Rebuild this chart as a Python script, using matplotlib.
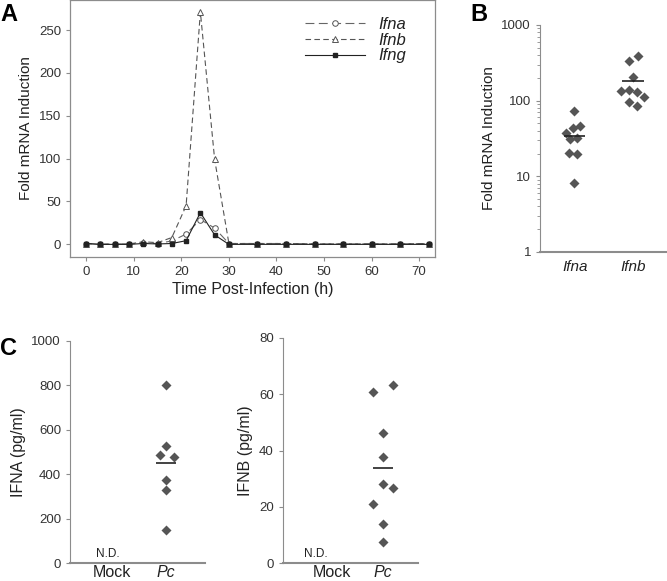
"""
Interferon induction figure: time course, qPCR scatter and ELISA scatter
"""
import numpy as np
import matplotlib.pyplot as plt

plt.rcParams['font.family'] = ['Liberation Sans', 'DejaVu Sans']

# =============================================================================
#     Data
# =============================================================================

hours = [0, 3, 6, 9, 12, 15, 18, 21, 24, 27, 30, 36, 42, 48, 54, 60, 66, 72]
ifna_course = [1, 0, 0.5, 0.5, 1.5, 1, 4, 12, 29, 19, 1, 1, 1, 0.5, 0.5, 0.5, 0.5, 1]
ifnb_course = [1, 0, 0.5, 0.5, 3, 2, 8, 45, 271, 99, 1, 1, 1, 0.5, 0.5, 0.5, 0.5, 1]
ifng_course = [1, 0, 0, 0, 1, 0.5, 1, 4.3, 37, 11, 0, 0, 0, 0, 0, 0, 0, 0]

fold_ifna = [74, 44, 45.6, 37, 30.7, 32, 20.3, 19.5, 8.2]
fold_ifnb = [394, 339, 204, 136, 139, 131, 113, 97, 85]
fold_ifna_mean = 34.3
fold_ifnb_mean = 181

ifna_pc = [801, 528, 487, 479, 374, 329, 148]
ifna_pc_mean = 449
ifnb_pc = [63.2, 60.8, 46.4, 37.8, 28.3, 26.7, 21.1, 13.9, 7.6]
ifnb_pc_mean = 34.0

gray = '#8c8c8c'
dot = '#555555'

fig = plt.figure(figsize=(6.67, 5.81), dpi=100)

# =============================================================================
#     A - time course
# =============================================================================
axA = fig.add_axes([0.105, 0.5577, 0.547, 0.4423])
axA.plot(hours, ifna_course, color='#666666', linestyle=(0, (8, 4)), lw=0.8,
         marker='o', markersize=4, markerfacecolor='white',
         markeredgecolor='#555555', markeredgewidth=0.7, label='Ifna')
axA.plot(hours, ifnb_course, color='#555555', linestyle=(0, (5, 3)), lw=0.8,
         marker='^', markersize=4.5, markerfacecolor='white',
         markeredgecolor='#555555', markeredgewidth=0.7, label='Ifnb')
axA.plot(hours, ifng_course, color='#222222', linestyle='-', lw=0.8,
         marker='s', markersize=3.2, markerfacecolor='#222222',
         markeredgecolor='#222222', label='Ifng')
axA.set_xlim(-3.4, 73.3)
axA.set_ylim(-14.7, 285)
axA.set_xticks(range(0, 71, 10))
axA.set_yticks(range(0, 251, 50))
for s in axA.spines.values():
    s.set_color(gray)
    s.set_linewidth(0.9)
axA.tick_params(direction='out', length=3, color=gray, labelsize=9.5,
                labelcolor='#333333')
axA.set_xlabel('Time Post-Infection (h)', fontsize=11.5, color='#222222',
               labelpad=3)
axA.set_ylabel('Fold mRNA Induction', fontsize=11, color='#222222')
leg = axA.legend(loc='upper left', bbox_to_anchor=(0.644, 0.935),
                 frameon=False, borderpad=0, borderaxespad=0,
                 handlelength=3.6, handletextpad=0.8,
                 labelspacing=0.05, prop={'style': 'italic', 'size': 12})
for t in leg.get_texts():
    t.set_color('#222222')

# =============================================================================
#     B - fold induction scatter (log)
# =============================================================================
axB = fig.add_axes([0.8096, 0.5663, 0.1904, 0.3907])
off_a = [-0.02, -0.035, 0.09, -0.145, -0.08, 0.03, -0.1, 0.03, -0.02]
off_b = [0.09, -0.065, 0, -0.2, -0.065, 0.065, 0.19, -0.07, 0.065]
axB.scatter(np.array(off_a), fold_ifna, marker='D', s=26, color=dot, lw=0)
axB.scatter(1 + np.array(off_b), fold_ifnb, marker='D', s=26, color=dot, lw=0)
axB.hlines([fold_ifna_mean, fold_ifnb_mean], [-0.18, 0.81], [0.18, 1.19],
           color='#222222', lw=1.2)
axB.set_yscale('log')
axB.set_ylim(1, 1000)
axB.set_xlim(-0.6, 1.59)
axB.set_xticks([0, 1])
axB.set_xticklabels(['Ifna', 'Ifnb'], style='italic', fontsize=11)
axB.set_yticks([1, 10, 100, 1000])
axB.set_yticklabels(['1', '10', '100', '1000'])
axB.spines['top'].set_visible(False)
axB.spines['right'].set_visible(False)
axB.spines['left'].set_color(gray)
axB.spines['bottom'].set_color(gray)
axB.spines['bottom'].set_linewidth(1.5)
axB.tick_params(axis='y', which='both', direction='out', color=gray,
                labelsize=9.5, labelcolor='#333333')
axB.tick_params(axis='y', which='major', length=3)
axB.tick_params(axis='y', which='minor', length=2)
axB.tick_params(axis='x', length=0, pad=6, labelcolor='#222222')
axB.set_ylabel('Fold mRNA Induction', fontsize=11, color='#222222')

# =============================================================================
#     C - ELISA scatter
# =============================================================================
axC1 = fig.add_axes([0.105, 0.0305, 0.2024, 0.3831])
off_c1 = [0, 0, -0.12, 0.14, 0, 0, 0]
axC1.scatter(1 + np.array(off_c1), ifna_pc, marker='D', s=26, color=dot, lw=0)
axC1.hlines(ifna_pc_mean, 0.81, 1.19, color='#222222', lw=1.2)
axC1.set_ylim(0, 1000)
axC1.set_xlim(-0.78, 1.72)
axC1.set_yticks(range(0, 1001, 200))
axC1.set_ylabel('IFNA (pg/ml)', fontsize=11.5, color='#222222')
axC1.text(-0.08, 15, 'N.D.', fontsize=8.5, ha='center', va='bottom',
          color='#222222')

axC2 = fig.add_axes([0.4238, 0.0305, 0.2028, 0.3878])
off_c2 = [0.2, -0.2, 0, 0, 0, 0.2, -0.2, 0, 0]
axC2.scatter(1 + np.array(off_c2), ifnb_pc, marker='D', s=26, color=dot, lw=0)
axC2.hlines(ifnb_pc_mean, 0.81, 1.19, color='#222222', lw=1.2)
axC2.set_ylim(0, 80)
axC2.set_xlim(-0.97, 1.69)
axC2.set_yticks(range(0, 81, 20))
axC2.set_ylabel('IFNB (pg/ml)', fontsize=11.5, color='#222222')
axC2.text(-0.32, 1.2, 'N.D.', fontsize=8.5, ha='center', va='bottom',
          color='#222222')

for ax in (axC1, axC2):
    ax.set_xticks([0, 1])
    ax.set_xticklabels(['Mock', 'Pc'], fontsize=11.5)
    ax.get_xticklabels()[1].set_style('italic')
    ax.spines['top'].set_visible(False)
    ax.spines['right'].set_visible(False)
    ax.spines['left'].set_color(gray)
    ax.spines['bottom'].set_color(gray)
    ax.spines['bottom'].set_linewidth(1.5)
    ax.tick_params(axis='y', direction='out', length=3, color=gray,
                   labelsize=9.5, labelcolor='#333333')
    ax.tick_params(axis='x', length=0, pad=1, labelcolor='#222222')

# Panel letters
fig.text(0.0, 0.975, 'A', fontsize=17, fontweight='bold', va='center')
fig.text(0.705, 0.975, 'B', fontsize=17, fontweight='bold', va='center')
fig.text(0.0, 0.4, 'C', fontsize=17, fontweight='bold', va='center')

fig.savefig('out.png', dpi=100)
